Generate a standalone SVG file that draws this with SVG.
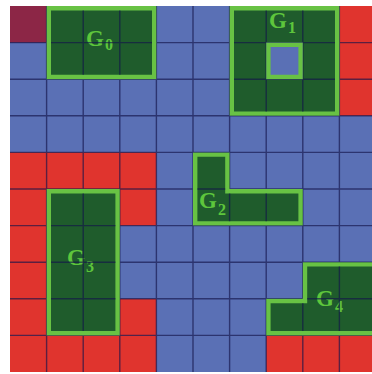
<svg xmlns="http://www.w3.org/2000/svg" xmlns:xlink="http://www.w3.org/1999/xlink" width="372" height="374" viewBox="0 0 372 374">
<style>
.blue{fill:#5A70B5}
.red{fill:#E0342E}
.maroon{fill:#8C2646}
.fill{fill:#1F5C2C}
.outline{fill:none;stroke:#68C244;stroke-width:4.4;stroke-linejoin:miter}
.lbl{font-family:"Liberation Serif","Times New Roman",serif;font-weight:bold;font-size:23px;fill:#5EC63C}
.sub{font-size:16px}
.grid{fill:none;stroke:#14144A;stroke-opacity:0.65;stroke-width:1.4}
</style>
<defs>
<path id="o0" d="M48.8,8.2 H154.2 V77 H48.8 Z"/>
<path id="o1" d="M231.8,8.2 H337.2 V113.6 H231.8 Z M268.4,44.8 H300.6 V77 H268.4 Z"/>
<path id="o2" d="M195.2,154.6 H227.4 V191.2 H300.6 V223.4 H195.2 Z"/>
<path id="o3" d="M48.8,191.2 H117.6 V333.2 H48.8 Z"/>
<path id="o4" d="M305,264.4 H380 V333.2 H268.4 V301 H305 Z"/>
<mask id="gm" maskUnits="userSpaceOnUse" x="0" y="0" width="372" height="374">
<rect x="0" y="0" width="372" height="374" fill="#fff"/>
<g fill="none" stroke="#000" stroke-width="4.4">
<use xlink:href="#o0"/><use xlink:href="#o1"/><use xlink:href="#o2"/><use xlink:href="#o3"/><use xlink:href="#o4"/>
</g>
</mask>
</defs>
<rect x="0" y="0" width="372" height="374" fill="#fff"/>
<g id="cells">
<rect class="blue" x="10" y="6" width="366" height="366"/>
<rect class="maroon" x="10" y="6" width="36.6" height="36.6"/>
<rect class="red" x="339.4" y="6" width="36.6" height="109.8"/>
<rect class="red" x="10" y="152.4" width="146.4" height="36.6"/>
<rect class="red" x="10" y="189" width="36.6" height="146.4"/>
<rect class="red" x="119.8" y="189" width="36.6" height="36.6"/>
<rect class="red" x="119.8" y="298.8" width="36.6" height="36.6"/>
<rect class="red" x="10" y="335.4" width="146.4" height="36.6"/>
<rect class="red" x="266.2" y="335.4" width="109.8" height="36.6"/>
</g>
<g id="G0">
<rect class="fill" x="46.6" y="6" width="109.8" height="73.2"/>
<use xlink:href="#o0" class="outline"/>
<text class="lbl" x="86" y="46">G<tspan class="sub" x="105" y="50">0</tspan></text>
</g>
<g id="G1">
<path class="fill" fill-rule="evenodd" d="M229.6,6 H339.4 V115.8 H229.6 Z M266.2,42.6 V79.2 H302.8 V42.6 Z"/>
<use xlink:href="#o1" class="outline"/>
<text class="lbl" x="269" y="28">G<tspan class="sub" x="288" y="33">1</tspan></text>
</g>
<g id="G2">
<path class="fill" d="M193,152.4 H229.6 V189 H302.8 V225.6 H193 Z"/>
<use xlink:href="#o2" class="outline"/>
<text class="lbl" x="199" y="208">G<tspan class="sub" x="218" y="215">2</tspan></text>
</g>
<g id="G3">
<rect class="fill" x="46.6" y="189" width="73.2" height="146.4"/>
<use xlink:href="#o3" class="outline"/>
<text class="lbl" x="67" y="265">G<tspan class="sub" x="86" y="272">3</tspan></text>
</g>
<g id="G4">
<path class="fill" d="M302.8,262.2 H376 V335.4 H266.2 V298.8 H302.8 Z"/>
<use xlink:href="#o4" class="outline"/>
<text class="lbl" x="316" y="306">G<tspan class="sub" x="335" y="312">4</tspan></text>
</g>
<g id="gridlines" mask="url(#gm)">
<path class="grid" d="M46.6,6 V372 M83.2,6 V372 M119.8,6 V372 M156.4,6 V372 M193,6 V372 M229.6,6 V372 M266.2,6 V372 M302.8,6 V372 M339.4,6 V372 M10,42.6 H376 M10,79.2 H376 M10,115.8 H376 M10,152.4 H376 M10,189 H376 M10,225.6 H376 M10,262.2 H376 M10,298.8 H376 M10,335.4 H376"/>
</g>
</svg>
